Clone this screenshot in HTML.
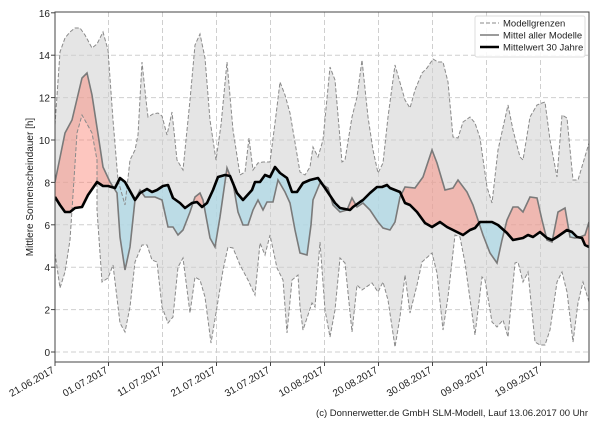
<!DOCTYPE html>
<html><head><meta charset="utf-8"><style>
body{margin:0;background:#fff;width:600px;height:420px;overflow:hidden;font-family:"Liberation Sans","DejaVu Sans",sans-serif}
</style></head><body>
<svg width="600" height="420" xmlns="http://www.w3.org/2000/svg" font-family="Liberation Sans, DejaVu Sans, sans-serif">
<defs>
<clipPath id="plot"><rect x="55" y="12" width="534" height="350"/></clipPath>
<clipPath id="above"><polygon points="55,0 55,197 60,205 65,212 70,212 75,208 82,207 88,195 97,182 103,186 108,186 115,188 120,178 125,182 135,200 140,193 147,189 152,192 157,190 163,186 168,185 173,198 180,203 185,208 192,203 197,202 202,207 207,203 213,190 218,177 225,175 230,176 237,193 243,200 252,190 255,182 260,182 265,175 270,177 275,167 280,173 287,178 292,192 297,192 303,183 310,180 318,178 325,188 335,203 340,208 350,210 353,207 360,202 363,200 370,193 377,187 382,187 387,185 390,188 395,190 400,192 405,203 410,205 417,212 425,223 432,227 440,222 447,227 457,232 463,235 470,230 475,228 480,222 492,222 498,225 507,233 513,240 523,238 528,235 533,237 540,232 547,238 552,240 557,237 567,230 572,232 577,237 582,238 585,245 589,247 589,0"/></clipPath>
<clipPath id="below"><polygon points="55,420 55,197 60,205 65,212 70,212 75,208 82,207 88,195 97,182 103,186 108,186 115,188 120,178 125,182 135,200 140,193 147,189 152,192 157,190 163,186 168,185 173,198 180,203 185,208 192,203 197,202 202,207 207,203 213,190 218,177 225,175 230,176 237,193 243,200 252,190 255,182 260,182 265,175 270,177 275,167 280,173 287,178 292,192 297,192 303,183 310,180 318,178 325,188 335,203 340,208 350,210 353,207 360,202 363,200 370,193 377,187 382,187 387,185 390,188 395,190 400,192 405,203 410,205 417,212 425,223 432,227 440,222 447,227 457,232 463,235 470,230 475,228 480,222 492,222 498,225 507,233 513,240 523,238 528,235 533,237 540,232 547,238 552,240 557,237 567,230 572,232 577,237 582,238 585,245 589,247 589,420"/></clipPath>
</defs>
<g clip-path="url(#plot)">
<polygon fill="#e5e5e5" points="55,125 60,52 65,38 70,32 75,28 80,28 85,35 92,48 97,44 103,32 108,50 113,120 118,180 125,205 130,160 135,150 138,135 142,62 146,100 148,117 153,114 158,113 162,116 167,135 172,112 177,160 183,170 190,100 195,45 200,34 205,58 210,120 216,160 221,125 227,62 233,130 240,175 245,172 249,138 253,170 258,163 263,162 270,162 276,115 280,82 285,95 290,113 300,172 305,175 310,167 313,147 318,157 323,140 330,67 335,80 342,162 345,160 352,117 357,97 362,60 368,117 373,150 378,173 383,163 388,117 395,65 405,100 410,108 415,90 422,73 427,68 433,59 438,62 443,62 448,82 453,137 458,138 463,122 470,117 475,123 480,138 487,187 492,203 498,150 508,105 513,130 520,157 523,160 530,117 537,105 542,103 545,102 550,140 557,177 562,115 567,118 573,180 578,180 589,143 589,302 583,282 578,303 573,342 567,292 562,272 557,282 550,330 545,345 540,345 535,342 528,272 523,282 518,262 515,263 508,337 503,320 497,327 492,322 485,280 482,277 475,335 465,263 460,237 455,235 448,297 443,330 437,273 432,253 422,262 417,285 410,313 405,275 400,317 395,347 388,300 383,282 378,292 372,283 362,290 357,285 352,332 345,263 340,258 335,310 330,337 325,310 320,242 315,307 312,303 303,330 300,307 298,275 292,280 287,333 283,280 277,268 270,235 265,255 260,243 255,295 248,280 240,265 233,248 228,247 223,270 217,307 211,343 205,297 200,280 195,277 190,313 183,258 178,267 173,317 168,323 162,307 157,262 152,260 147,245 142,245 135,262 130,307 125,332 120,323 113,265 108,278 102,282 97,210 97,160 92,133 82,115 77,133 72,210 70,240 65,272 60,288 55,253"/>
<g stroke="#cfcfcf" stroke-width="1" stroke-dasharray="5,3" fill="none">
<line x1="55" x2="589" y1="352" y2="352"/><line x1="55" x2="589" y1="309.6" y2="309.6"/><line x1="55" x2="589" y1="267.2" y2="267.2"/><line x1="55" x2="589" y1="224.8" y2="224.8"/><line x1="55" x2="589" y1="182.4" y2="182.4"/><line x1="55" x2="589" y1="140" y2="140"/><line x1="55" x2="589" y1="97.6" y2="97.6"/><line x1="55" x2="589" y1="55.2" y2="55.2"/>
<line x1="108.5" x2="108.5" y1="12" y2="362"/><line x1="162.5" x2="162.5" y1="12" y2="362"/><line x1="216.5" x2="216.5" y1="12" y2="362"/><line x1="270.5" x2="270.5" y1="12" y2="362"/><line x1="324.5" x2="324.5" y1="12" y2="362"/><line x1="378.5" x2="378.5" y1="12" y2="362"/><line x1="432.5" x2="432.5" y1="12" y2="362"/><line x1="486.5" x2="486.5" y1="12" y2="362"/><line x1="540.5" x2="540.5" y1="12" y2="362"/>
</g>
<g id="between">
<polygon id="bp" clip-path="url(#above)" fill="rgb(250,128,114)" fill-opacity="0.45" points="55,182 65,133 72,120 82,78 87,73 92,95 100,147 103,167 110,182 117,193 120,237 125,270 130,247 135,200 140,190 145,197 155,197 162,200 168,227 173,227 178,235 183,230 190,212 195,197 200,193 203,200 210,238 215,247 220,217 227,168 233,183 238,212 243,225 248,225 253,210 258,200 263,210 267,202 273,202 278,180 285,192 290,203 295,230 300,253 307,255 311,225 313,200 320,183 328,188 333,205 340,212 347,210 352,198 357,207 363,203 370,210 378,222 383,228 390,230 395,222 400,197 405,187 415,188 423,177 432,150 437,163 445,190 453,188 458,180 467,192 473,205 478,220 483,235 490,253 497,263 502,240 507,220 513,207 518,207 523,212 530,197 537,198 542,220 547,240 552,242 558,212 565,208 570,237 575,238 580,237 585,235 589,222 589,247 585,245 582,238 577,237 572,232 567,230 557,237 552,240 547,238 540,232 533,237 528,235 523,238 513,240 507,233 498,225 492,222 480,222 475,228 470,230 463,235 457,232 447,227 440,222 432,227 425,223 417,212 410,205 405,203 400,192 395,190 390,188 387,185 382,187 377,187 370,193 363,200 360,202 353,207 350,210 340,208 335,203 325,188 318,178 310,180 303,183 297,192 292,192 287,178 280,173 275,167 270,177 265,175 260,182 255,182 252,190 243,200 237,193 230,176 225,175 218,177 213,190 207,203 202,207 197,202 192,203 185,208 180,203 173,198 168,185 163,186 157,190 152,192 147,189 140,193 135,200 125,182 120,178 115,188 108,186 103,186 97,182 88,195 82,207 75,208 70,212 65,212 60,205 55,197"/>
</g>
<polygon clip-path="url(#below)" fill="rgb(173,216,230)" fill-opacity="0.75" points="55,182 65,133 72,120 82,78 87,73 92,95 100,147 103,167 110,182 117,193 120,237 125,270 130,247 135,200 140,190 145,197 155,197 162,200 168,227 173,227 178,235 183,230 190,212 195,197 200,193 203,200 210,238 215,247 220,217 227,168 233,183 238,212 243,225 248,225 253,210 258,200 263,210 267,202 273,202 278,180 285,192 290,203 295,230 300,253 307,255 311,225 313,200 320,183 328,188 333,205 340,212 347,210 352,198 357,207 363,203 370,210 378,222 383,228 390,230 395,222 400,197 405,187 415,188 423,177 432,150 437,163 445,190 453,188 458,180 467,192 473,205 478,220 483,235 490,253 497,263 502,240 507,220 513,207 518,207 523,212 530,197 537,198 542,220 547,240 552,242 558,212 565,208 570,237 575,238 580,237 585,235 589,222 589,247 585,245 582,238 577,237 572,232 567,230 557,237 552,240 547,238 540,232 533,237 528,235 523,238 513,240 507,233 498,225 492,222 480,222 475,228 470,230 463,235 457,232 447,227 440,222 432,227 425,223 417,212 410,205 405,203 400,192 395,190 390,188 387,185 382,187 377,187 370,193 363,200 360,202 353,207 350,210 340,208 335,203 325,188 318,178 310,180 303,183 297,192 292,192 287,178 280,173 275,167 270,177 265,175 260,182 255,182 252,190 243,200 237,193 230,176 225,175 218,177 213,190 207,203 202,207 197,202 192,203 185,208 180,203 173,198 168,185 163,186 157,190 152,192 147,189 140,193 135,200 125,182 120,178 115,188 108,186 103,186 97,182 88,195 82,207 75,208 70,212 65,212 60,205 55,197"/>
<g fill="none" stroke="#8a8a8a" stroke-width="1" stroke-dasharray="4,2">
<polyline points="55,125 60,52 65,38 70,32 75,28 80,28 85,35 92,48 97,44 103,32 108,50 113,120 118,180 125,205 130,160 135,150 138,135 142,62 146,100 148,117 153,114 158,113 162,116 167,135 172,112 177,160 183,170 190,100 195,45 200,34 205,58 210,120 216,160 221,125 227,62 233,130 240,175 245,172 249,138 253,170 258,163 263,162 270,162 276,115 280,82 285,95 290,113 300,172 305,175 310,167 313,147 318,157 323,140 330,67 335,80 342,162 345,160 352,117 357,97 362,60 368,117 373,150 378,173 383,163 388,117 395,65 405,100 410,108 415,90 422,73 427,68 433,59 438,62 443,62 448,82 453,137 458,138 463,122 470,117 475,123 480,138 487,187 492,203 498,150 508,105 513,130 520,157 523,160 530,117 537,105 542,103 545,102 550,140 557,177 562,115 567,118 573,180 578,180 589,143"/>
<polyline points="589,302 583,282 578,303 573,342 567,292 562,272 557,282 550,330 545,345 540,345 535,342 528,272 523,282 518,262 515,263 508,337 503,320 497,327 492,322 485,280 482,277 475,335 465,263 460,237 455,235 448,297 443,330 437,273 432,253 422,262 417,285 410,313 405,275 400,317 395,347 388,300 383,282 378,292 372,283 362,290 357,285 352,332 345,263 340,258 335,310 330,337 325,310 320,242 315,307 312,303 303,330 300,307 298,275 292,280 287,333 283,280 277,268 270,235 265,255 260,243 255,295 248,280 240,265 233,248 228,247 223,270 217,307 211,343 205,297 200,280 195,277 190,313 183,258 178,267 173,317 168,323 162,307 157,262 152,260 147,245 142,245 135,262 130,307 125,332 120,323 113,265 108,278 102,282 97,210 97,160 92,133 82,115 77,133 72,210 70,240 65,272 60,288 55,253"/>
</g>
<polyline fill="none" stroke="#7a7a7a" stroke-width="1.6" points="55,182 65,133 72,120 82,78 87,73 92,95 100,147 103,167 110,182 117,193 120,237 125,270 130,247 135,200 140,190 145,197 155,197 162,200 168,227 173,227 178,235 183,230 190,212 195,197 200,193 203,200 210,238 215,247 220,217 227,168 233,183 238,212 243,225 248,225 253,210 258,200 263,210 267,202 273,202 278,180 285,192 290,203 295,230 300,253 307,255 311,225 313,200 320,183 328,188 333,205 340,212 347,210 352,198 357,207 363,203 370,210 378,222 383,228 390,230 395,222 400,197 405,187 415,188 423,177 432,150 437,163 445,190 453,188 458,180 467,192 473,205 478,220 483,235 490,253 497,263 502,240 507,220 513,207 518,207 523,212 530,197 537,198 542,220 547,240 552,242 558,212 565,208 570,237 575,238 580,237 585,235 589,222"/>
<polyline fill="none" stroke="#000" stroke-width="2.6" stroke-linejoin="round" points="55,197 60,205 65,212 70,212 75,208 82,207 88,195 97,182 103,186 108,186 115,188 120,178 125,182 135,200 140,193 147,189 152,192 157,190 163,186 168,185 173,198 180,203 185,208 192,203 197,202 202,207 207,203 213,190 218,177 225,175 230,176 237,193 243,200 252,190 255,182 260,182 265,175 270,177 275,167 280,173 287,178 292,192 297,192 303,183 310,180 318,178 325,188 335,203 340,208 350,210 353,207 360,202 363,200 370,193 377,187 382,187 387,185 390,188 395,190 400,192 405,203 410,205 417,212 425,223 432,227 440,222 447,227 457,232 463,235 470,230 475,228 480,222 492,222 498,225 507,233 513,240 523,238 528,235 533,237 540,232 547,238 552,240 557,237 567,230 572,232 577,237 582,238 585,245 589,247"/>
</g>
<rect x="55" y="12" width="534" height="350" fill="none" stroke="#444" stroke-width="1"/>
<g font-size="10" fill="#222" text-anchor="end">
<text x="50" y="356">0</text><text x="50" y="313.6">2</text><text x="50" y="271.2">4</text><text x="50" y="228.8">6</text><text x="50" y="186.4">8</text><text x="50" y="144">10</text><text x="50" y="101.6">12</text><text x="50" y="59.2">14</text><text x="50" y="16.8">16</text>
</g>
<g stroke="#444"><line x1="51" x2="55" y1="352" y2="352"/><line x1="51" x2="55" y1="309.6" y2="309.6"/><line x1="51" x2="55" y1="267.2" y2="267.2"/><line x1="51" x2="55" y1="224.8" y2="224.8"/><line x1="51" x2="55" y1="182.4" y2="182.4"/><line x1="51" x2="55" y1="140" y2="140"/><line x1="51" x2="55" y1="97.6" y2="97.6"/><line x1="51" x2="55" y1="55.2" y2="55.2"/><line x1="51" x2="55" y1="12.8" y2="12.8"/>
<line x1="55" x2="55" y1="362" y2="366"/><line x1="108.5" x2="108.5" y1="362" y2="366"/><line x1="162.5" x2="162.5" y1="362" y2="366"/><line x1="216.5" x2="216.5" y1="362" y2="366"/><line x1="270.5" x2="270.5" y1="362" y2="366"/><line x1="324.5" x2="324.5" y1="362" y2="366"/><line x1="378.5" x2="378.5" y1="362" y2="366"/><line x1="432.5" x2="432.5" y1="362" y2="366"/><line x1="486.5" x2="486.5" y1="362" y2="366"/><line x1="540.5" x2="540.5" y1="362" y2="366"/></g>
<text transform="translate(33,187) rotate(-90)" font-size="10" fill="#222" text-anchor="middle">Mittlere Sonnenscheindauer [h]</text>
<g font-size="10" fill="#222" text-anchor="end">
<text transform="translate(55,372) rotate(-30)">21.06.2017</text>
<text transform="translate(108.5,372) rotate(-30)">01.07.2017</text>
<text transform="translate(162.5,372) rotate(-30)">11.07.2017</text>
<text transform="translate(216.5,372) rotate(-30)">21.07.2017</text>
<text transform="translate(270.5,372) rotate(-30)">31.07.2017</text>
<text transform="translate(324.5,372) rotate(-30)">10.08.2017</text>
<text transform="translate(378.5,372) rotate(-30)">20.08.2017</text>
<text transform="translate(432.5,372) rotate(-30)">30.08.2017</text>
<text transform="translate(486.5,372) rotate(-30)">09.09.2017</text>
<text transform="translate(540.5,372) rotate(-30)">19.09.2017</text>
</g>
<text x="588" y="416" font-size="9.5" fill="#222" text-anchor="end">(c) Donnerwetter.de GmbH SLM-Modell, Lauf 13.06.2017 00 Uhr</text>
<rect x="475" y="16" width="110" height="41" rx="2" fill="#fff" fill-opacity="0.85" stroke="#ddd"/>
<line x1="480" x2="499" y1="23" y2="23" stroke="#8a8a8a" stroke-dasharray="4,2"/>
<line x1="480" x2="499" y1="35" y2="35" stroke="#7a7a7a" stroke-width="1.6"/>
<line x1="480" x2="499" y1="47" y2="47" stroke="#000" stroke-width="2.6"/>
<g font-size="9.5" fill="#222"><text x="503" y="26.5">Modellgrenzen</text><text x="503" y="38.5">Mittel aller Modelle</text><text x="503" y="50.5">Mittelwert 30 Jahre</text></g>
</svg>
</body></html>
